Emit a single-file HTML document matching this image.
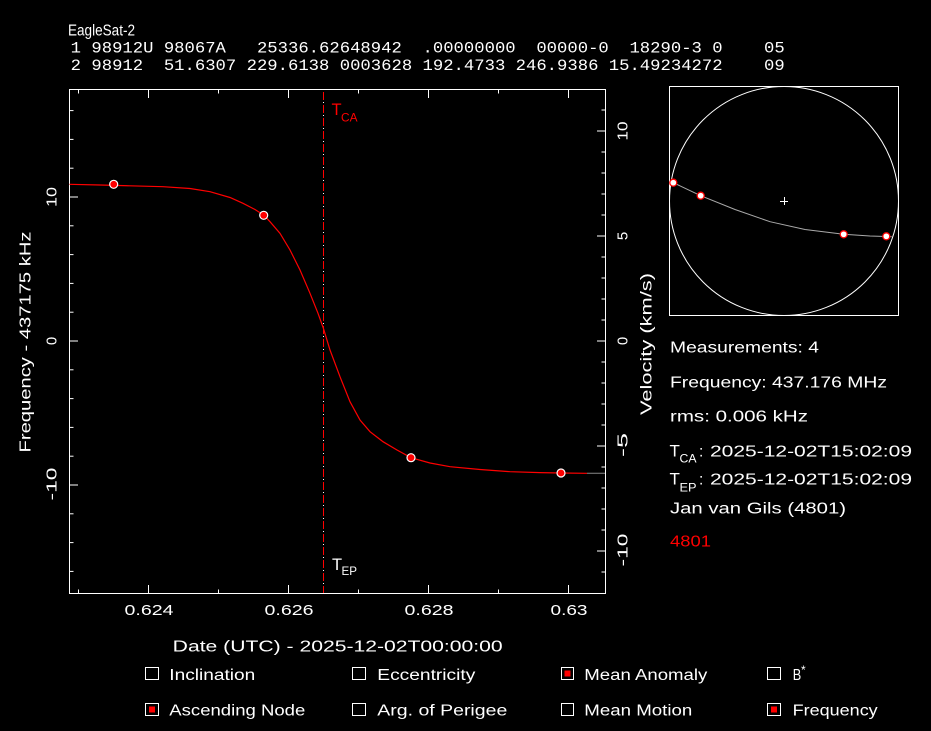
<!DOCTYPE html>
<html><head><meta charset="utf-8"><style>
html,body{margin:0;padding:0;background:#000;}
svg{display:block;}
text{font-family:"Liberation Sans",sans-serif;fill:#fff;}
.m{font-family:"Liberation Mono",monospace;font-size:16px;}
</style></head><body>
<svg width="931" height="731" viewBox="0 0 931 731" xmlns="http://www.w3.org/2000/svg">
<rect x="0" y="0" width="931" height="731" fill="#000"/>

<!-- Header -->
<text x="68" y="35.7" font-size="15.5" textLength="67" lengthAdjust="spacingAndGlyphs">EagleSat-2</text>
<text class="m" x="70.7" y="52.3" xml:space="preserve" textLength="714" lengthAdjust="spacingAndGlyphs">1 98912U 98067A   25336.62648942  .00000000  00000-0  18290-3 0    05</text>
<text class="m" x="70.7" y="70" xml:space="preserve" textLength="714" lengthAdjust="spacingAndGlyphs">2 98912  51.6307 229.6138 0003628 192.4733 246.9386 15.49234272    09</text>

<!-- Main frame -->
<rect x="69.5" y="89.5" width="536" height="504" fill="none" stroke="#fff" stroke-width="1"/>

<!-- Left ticks (frequency) -->
<g stroke="#fff" stroke-width="1">
<line x1="69.5" y1="110.6" x2="73.5" y2="110.6"/>
<line x1="69.5" y1="139.4" x2="73.5" y2="139.4"/>
<line x1="69.5" y1="168.2" x2="73.5" y2="168.2"/>
<line x1="69.5" y1="197" x2="78" y2="197"/>
<line x1="69.5" y1="225.8" x2="73.5" y2="225.8"/>
<line x1="69.5" y1="254.6" x2="73.5" y2="254.6"/>
<line x1="69.5" y1="283.4" x2="73.5" y2="283.4"/>
<line x1="69.5" y1="312.2" x2="73.5" y2="312.2"/>
<line x1="69.5" y1="341" x2="78" y2="341"/>
<line x1="69.5" y1="369.8" x2="73.5" y2="369.8"/>
<line x1="69.5" y1="398.6" x2="73.5" y2="398.6"/>
<line x1="69.5" y1="427.4" x2="73.5" y2="427.4"/>
<line x1="69.5" y1="456.2" x2="73.5" y2="456.2"/>
<line x1="69.5" y1="485" x2="78" y2="485"/>
<line x1="69.5" y1="513.8" x2="73.5" y2="513.8"/>
<line x1="69.5" y1="542.6" x2="73.5" y2="542.6"/>
<line x1="69.5" y1="571.4" x2="73.5" y2="571.4"/>
</g>

<!-- Right ticks (velocity) -->
<g stroke="#fff" stroke-width="1">
<line x1="605.5" y1="110" x2="601.5" y2="110"/>
<line x1="605.5" y1="131" x2="597" y2="131"/>
<line x1="605.5" y1="152" x2="601.5" y2="152"/>
<line x1="605.5" y1="173" x2="601.5" y2="173"/>
<line x1="605.5" y1="194" x2="601.5" y2="194"/>
<line x1="605.5" y1="215" x2="601.5" y2="215"/>
<line x1="605.5" y1="236" x2="597" y2="236"/>
<line x1="605.5" y1="257" x2="601.5" y2="257"/>
<line x1="605.5" y1="278" x2="601.5" y2="278"/>
<line x1="605.5" y1="299" x2="601.5" y2="299"/>
<line x1="605.5" y1="320" x2="601.5" y2="320"/>
<line x1="605.5" y1="341" x2="597" y2="341"/>
<line x1="605.5" y1="362" x2="601.5" y2="362"/>
<line x1="605.5" y1="383" x2="601.5" y2="383"/>
<line x1="605.5" y1="404" x2="601.5" y2="404"/>
<line x1="605.5" y1="425" x2="601.5" y2="425"/>
<line x1="605.5" y1="446" x2="597" y2="446"/>
<line x1="605.5" y1="467" x2="601.5" y2="467"/>
<line x1="605.5" y1="488" x2="601.5" y2="488"/>
<line x1="605.5" y1="509" x2="601.5" y2="509"/>
<line x1="605.5" y1="530" x2="601.5" y2="530"/>
<line x1="605.5" y1="551" x2="597" y2="551"/>
<line x1="605.5" y1="572" x2="601.5" y2="572"/>
</g>

<!-- Top / bottom ticks -->
<g stroke="#fff" stroke-width="1">
<line x1="78.5" y1="89.5" x2="78.5" y2="93.5"/>
<line x1="148.5" y1="89.5" x2="148.5" y2="98"/>
<line x1="218.5" y1="89.5" x2="218.5" y2="93.5"/>
<line x1="288.5" y1="89.5" x2="288.5" y2="98"/>
<line x1="358.5" y1="89.5" x2="358.5" y2="93.5"/>
<line x1="428.5" y1="89.5" x2="428.5" y2="98"/>
<line x1="498.5" y1="89.5" x2="498.5" y2="93.5"/>
<line x1="568.5" y1="89.5" x2="568.5" y2="98"/>
<line x1="78.5" y1="593.5" x2="78.5" y2="589.5"/>
<line x1="148.5" y1="593.5" x2="148.5" y2="585"/>
<line x1="218.5" y1="593.5" x2="218.5" y2="589.5"/>
<line x1="288.5" y1="593.5" x2="288.5" y2="585"/>
<line x1="358.5" y1="593.5" x2="358.5" y2="589.5"/>
<line x1="428.5" y1="593.5" x2="428.5" y2="585"/>
<line x1="498.5" y1="593.5" x2="498.5" y2="589.5"/>
<line x1="568.5" y1="593.5" x2="568.5" y2="585"/>
</g>

<!-- Bottom tick labels -->
<g font-size="15" text-anchor="middle">
<text x="149" y="615" textLength="49" lengthAdjust="spacingAndGlyphs">0.624</text>
<text x="289" y="615" textLength="49" lengthAdjust="spacingAndGlyphs">0.626</text>
<text x="429" y="615" textLength="49" lengthAdjust="spacingAndGlyphs">0.628</text>
<text x="569" y="615" textLength="37" lengthAdjust="spacingAndGlyphs">0.63</text>
</g>
<text x="172.7" y="651.7" font-size="15.5" textLength="330" lengthAdjust="spacingAndGlyphs">Date (UTC) - 2025-12-02T00:00:00</text>

<!-- Left tick labels (rotated) -->
<g font-size="15" text-anchor="middle">
<text transform="translate(56.5,197) rotate(-90)" textLength="20" lengthAdjust="spacingAndGlyphs">10</text>
<text transform="translate(56.5,341) rotate(-90)">0</text>
<text transform="translate(56.5,484) rotate(-90)" textLength="33" lengthAdjust="spacingAndGlyphs">-10</text>
</g>
<text transform="translate(30.5,342) rotate(-90)" font-size="15.5" text-anchor="middle" textLength="221" lengthAdjust="spacingAndGlyphs">Frequency - 437175 kHz</text>

<!-- Right tick labels (rotated) -->
<g font-size="15" text-anchor="middle">
<text transform="translate(627.5,131) rotate(-90)" textLength="19" lengthAdjust="spacingAndGlyphs">10</text>
<text transform="translate(627.5,236) rotate(-90)">5</text>
<text transform="translate(627.5,341) rotate(-90)">0</text>
<text transform="translate(627.5,445) rotate(-90)" textLength="24" lengthAdjust="spacingAndGlyphs">-5</text>
<text transform="translate(627.5,550) rotate(-90)" textLength="33" lengthAdjust="spacingAndGlyphs">-10</text>
</g>
<text transform="translate(651.5,344) rotate(-90)" font-size="15.5" text-anchor="middle" textLength="142" lengthAdjust="spacingAndGlyphs">Velocity (km/s)</text>

<!-- TCA dashed line -->
<line x1="323.5" y1="92" x2="323.5" y2="593" stroke="#ff0000" stroke-width="1" stroke-dasharray="8 5"/>
<line x1="323.5" y1="92" x2="323.5" y2="593" stroke="#fff" stroke-width="1" stroke-dasharray="1 12" stroke-dashoffset="3"/>

<text x="331.5" y="115" font-size="16.5" style="fill:#ff0000">T</text>
<text x="341" y="121.7" font-size="12" style="fill:#ff0000" textLength="16.5" lengthAdjust="spacingAndGlyphs">CA</text>
<text x="332" y="570" font-size="16.5">T</text>
<text x="341.5" y="575" font-size="12" textLength="15.5" lengthAdjust="spacingAndGlyphs">EP</text>

<!-- Curve -->
<polyline fill="none" stroke="#ff0000" stroke-width="1.2" points="69.5,184.3 100,185 130,185.8 163,186.7 190,188.5 210,191.7 230,197.5 243,203.3 255,209.5 264,215.3 270,221.7 280,233.3 290,250 300,270 310,293.3 318,313.3 323.3,328 330,350 340,376.7 350,401.7 360,420 370,431.7 383,441.7 397,450 411,457.7 430,463 450,466.7 480,469.5 510,471.7 540,472.6 561,473 587,473.3"/>
<line x1="587" y1="473.3" x2="605" y2="473.3" stroke="#888" stroke-width="1"/>

<g fill="#ff0000" stroke="#fff" stroke-width="1.2">
<circle cx="113.7" cy="184.3" r="4"/>
<circle cx="263.7" cy="215.3" r="4"/>
<circle cx="411" cy="457.7" r="4"/>
<circle cx="561" cy="473" r="4"/>
</g>

<!-- Sky panel -->
<rect x="669.5" y="86.5" width="229" height="229" fill="none" stroke="#fff" stroke-width="1"/>
<circle cx="784" cy="201" r="114.5" fill="none" stroke="#fff" stroke-width="1"/>
<line x1="780" y1="201.5" x2="788" y2="201.5" stroke="#fff"/>
<line x1="784.5" y1="197" x2="784.5" y2="205" stroke="#fff"/>
<polyline fill="none" stroke="#aaa" stroke-width="1" points="673.3,182.7 700.7,195.7 735,209.5 770,221.7 805,229.5 843.7,234.3 870,236 891.7,236.7"/>
<g fill="#fff" stroke="#ff0000" stroke-width="1.3">
<circle cx="673.3" cy="182.7" r="3.5"/>
<circle cx="700.7" cy="195.7" r="3.5"/>
<circle cx="843.7" cy="234.3" r="3.5"/>
<circle cx="886.3" cy="236.3" r="3.5"/>
</g>

<!-- Info text -->
<g font-size="15.5">
<text x="670" y="352.7" textLength="149" lengthAdjust="spacingAndGlyphs">Measurements: 4</text>
<text x="670" y="387.7" textLength="217" lengthAdjust="spacingAndGlyphs">Frequency: 437.176 MHz</text>
<text x="670" y="421.7" textLength="138" lengthAdjust="spacingAndGlyphs">rms: 0.006 kHz</text>
<text x="669.5" y="456.7" font-size="17">T</text>
<text x="679.5" y="462.5" font-size="12" textLength="17" lengthAdjust="spacingAndGlyphs">CA</text>
<text x="699" y="456.7">:</text>
<text x="710" y="456.7" textLength="202" lengthAdjust="spacingAndGlyphs">2025-12-02T15:02:09</text>
<text x="669.5" y="484.3" font-size="17">T</text>
<text x="679.5" y="491.5" font-size="12" textLength="17" lengthAdjust="spacingAndGlyphs">EP</text>
<text x="699" y="484.3">:</text>
<text x="710" y="484.3" textLength="202" lengthAdjust="spacingAndGlyphs">2025-12-02T15:02:09</text>
<text x="670" y="513.3" textLength="176" lengthAdjust="spacingAndGlyphs">Jan van Gils (4801)</text>
<text x="670" y="546.7" textLength="41" lengthAdjust="spacingAndGlyphs" style="fill:#ff0000">4801</text>
</g>

<!-- Checkboxes -->
<g fill="none" stroke="#fff" stroke-width="1">
<rect x="145.5" y="667.5" width="13" height="12"/>
<rect x="352.5" y="667.5" width="13" height="12"/>
<rect x="561.5" y="667.5" width="12" height="12"/>
<rect x="767.5" y="667.5" width="13" height="12"/>
<rect x="145.5" y="703.5" width="13" height="12"/>
<rect x="352.5" y="703.5" width="13" height="12"/>
<rect x="561.5" y="703.5" width="12" height="12"/>
<rect x="767.5" y="703.5" width="13" height="12"/>
</g>
<g fill="#ff0000">
<rect x="149" y="706.5" width="6" height="6"/>
<rect x="564.5" y="670.5" width="6" height="6"/>
<rect x="771" y="706.5" width="6" height="6"/>
</g>
<g font-size="15.5">
<text x="169.3" y="680" textLength="86" lengthAdjust="spacingAndGlyphs">Inclination</text>
<text x="377.3" y="680" textLength="98" lengthAdjust="spacingAndGlyphs">Eccentricity</text>
<text x="584.3" y="680" textLength="123" lengthAdjust="spacingAndGlyphs">Mean Anomaly</text>
<text x="792.7" y="680" textLength="8.5" lengthAdjust="spacingAndGlyphs">B</text>
<text x="801" y="674" font-size="12">*</text>
<text x="169.3" y="715.7" textLength="136" lengthAdjust="spacingAndGlyphs">Ascending Node</text>
<text x="377.3" y="715.7" textLength="130" lengthAdjust="spacingAndGlyphs">Arg. of Perigee</text>
<text x="584.3" y="715.7" textLength="108" lengthAdjust="spacingAndGlyphs">Mean Motion</text>
<text x="792.7" y="715.7" textLength="85" lengthAdjust="spacingAndGlyphs">Frequency</text>
</g>
</svg>
</body></html>
